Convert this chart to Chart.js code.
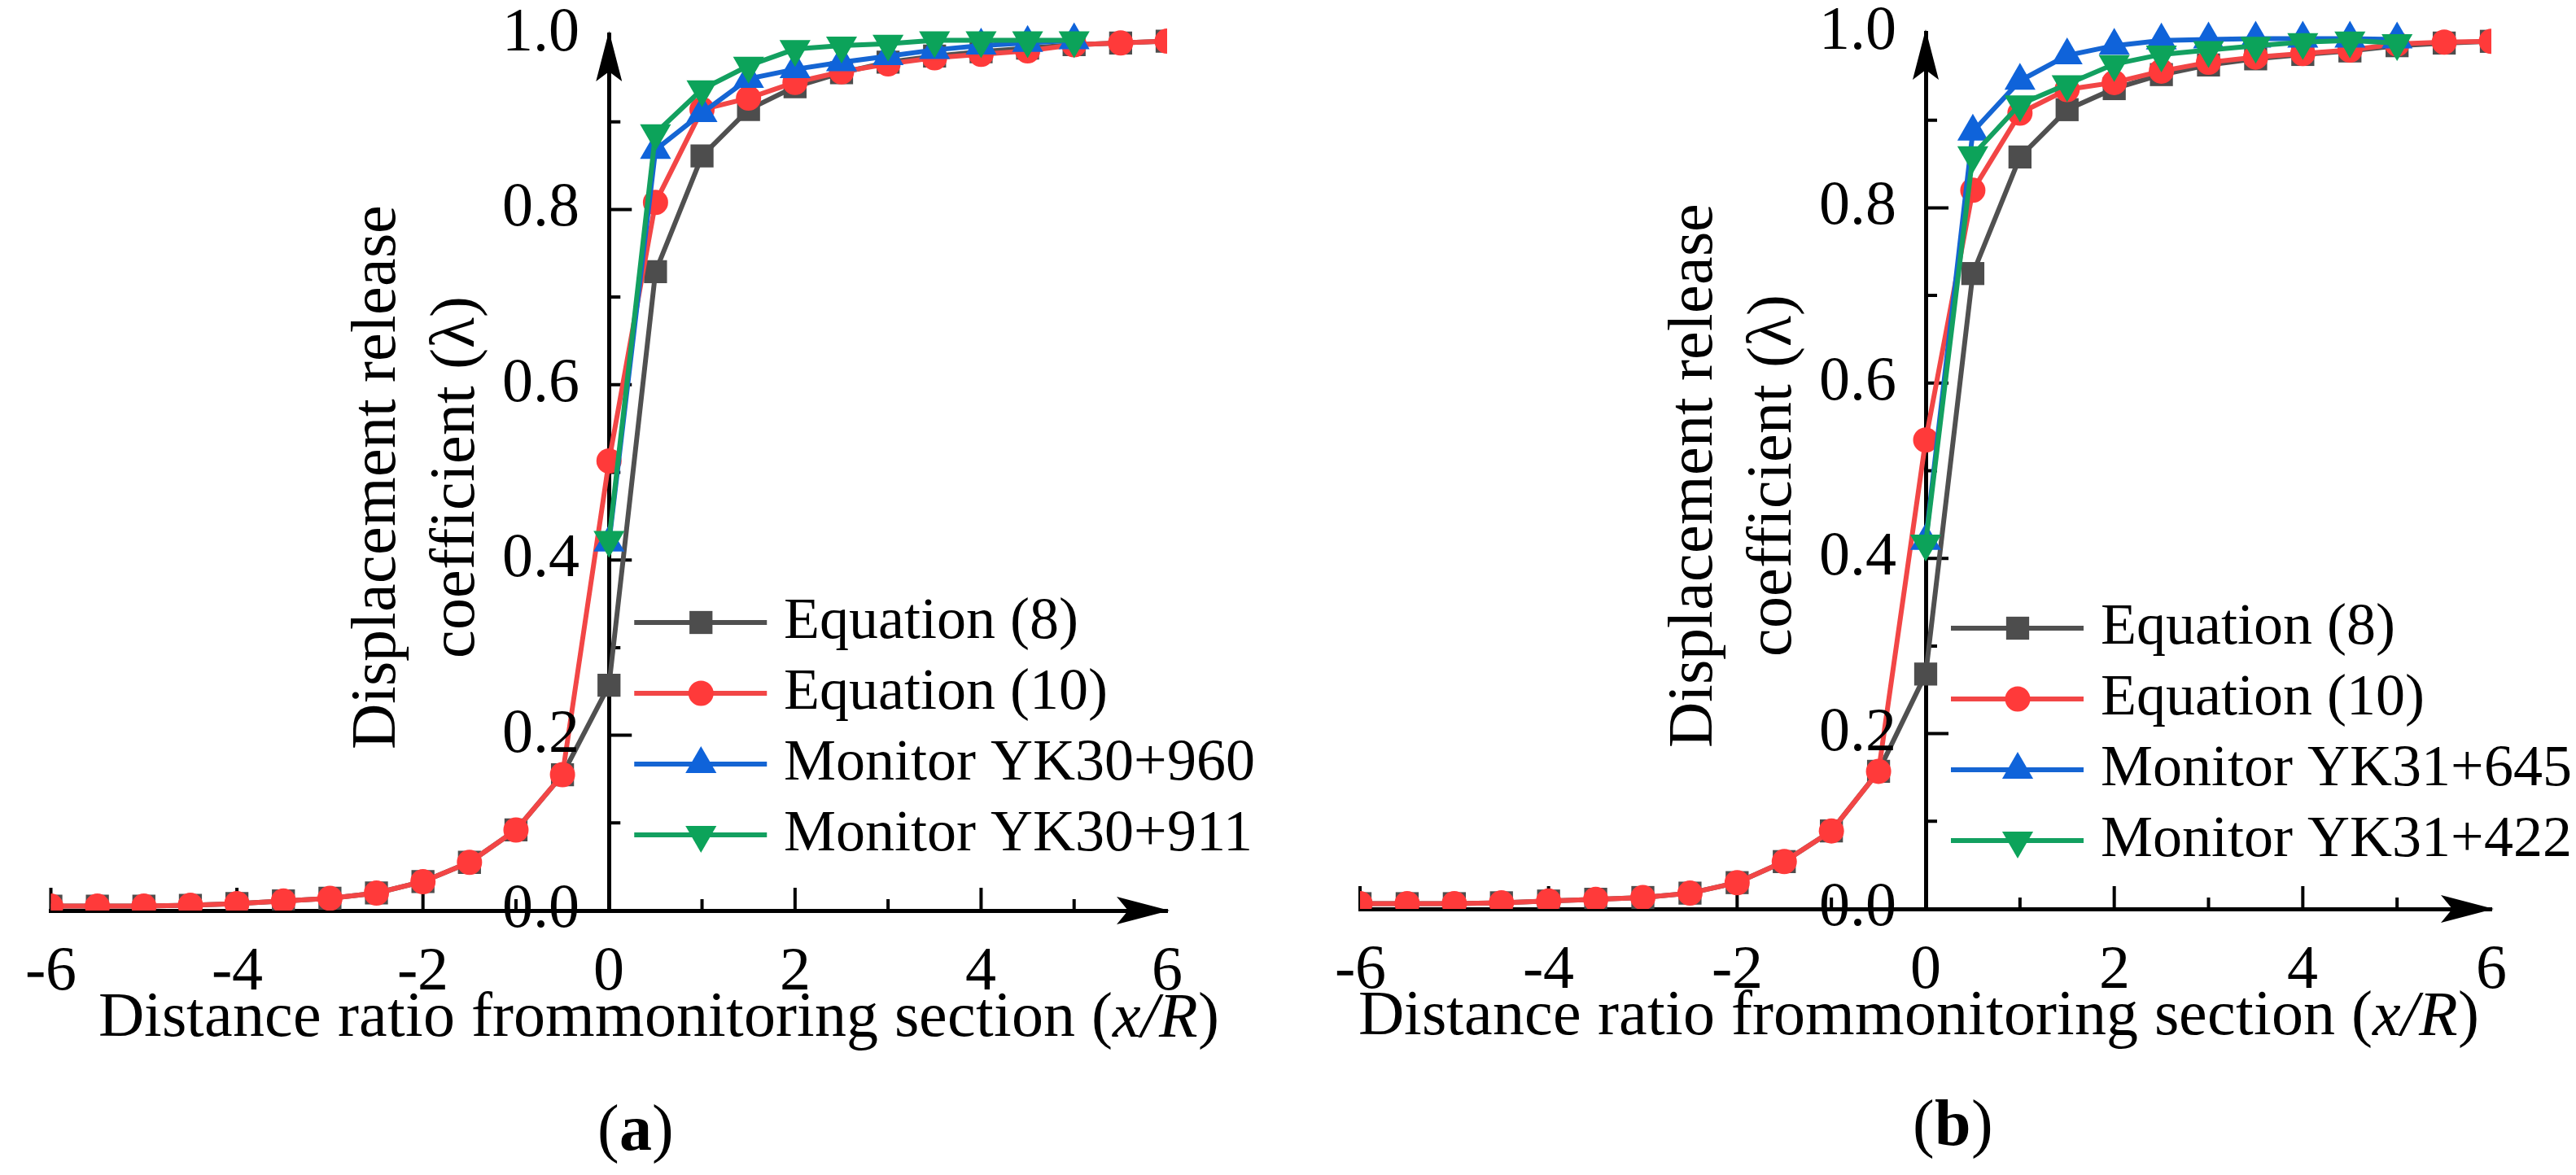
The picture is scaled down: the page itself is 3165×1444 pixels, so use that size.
<!DOCTYPE html>
<html>
<head>
<meta charset="utf-8">
<script src="https://cdn.jsdelivr.net/npm/chart.js@4.4.1/dist/chart.umd.min.js"></script>
<style>
  @font-face { font-family: 'FigSerif'; font-style: normal; font-weight: 400;
    src: local('Liberation Serif'), local('LiberationSerif'), local('LiberationSerif-Regular'); }
  @font-face { font-family: 'FigSerif'; font-style: italic; font-weight: 400;
    src: local('Liberation Serif Italic'), local('LiberationSerif-Italic'); }
  @font-face { font-family: 'FigSerif'; font-style: normal; font-weight: 700;
    src: local('Liberation Serif Bold'), local('LiberationSerif-Bold'); }
  html, body { margin: 0; padding: 0; background: #fff; }
  #wrap { position: relative; width: 3165px; height: 1444px; overflow: hidden; }
  canvas { position: absolute; top: 0; }
  #probe { position: absolute; left: -9999px; font-family: FigSerif, "Liberation Serif", serif; }
</style>
</head>
<body>
<div id="wrap">
  <canvas id="chartA" width="1582" height="1444" style="left:0px"></canvas>
  <canvas id="chartB" width="1583" height="1444" style="left:1582px"></canvas>
</div>
<span id="probe">Displacement <i>x/R</i> <b>a</b></span>
<script>
// distance ratio x/R for the two equations and for the monitoring points
const xFull = [-6, -5.5, -5, -4.5, -4, -3.5, -3, -2.5, -2, -1.5, -1, -0.5,
  0, 0.5, 1, 1.5, 2, 2.5, 3, 3.5, 4, 4.5, 5, 5.5, 6];
const xMonitor = [0, 0.5, 1, 1.5, 2, 2.5, 3, 3.5, 4, 4.5, 5];

// panel (a)
const eq8A = [0.005, 0.005, 0.005, 0.006, 0.008, 0.011, 0.014, 0.02, 0.033, 0.055, 0.092, 0.155,
  0.257, 0.729, 0.861, 0.914, 0.94, 0.956, 0.968, 0.975, 0.98, 0.984, 0.988, 0.99, 0.992];
const eq10A = [0.005, 0.005, 0.005, 0.006, 0.008, 0.011, 0.014, 0.02, 0.033, 0.055, 0.092, 0.155,
  0.513, 0.808, 0.914, 0.927, 0.945, 0.957, 0.966, 0.973, 0.977, 0.981, 0.988, 0.99, 0.992];
const monA1 = [0.42, 0.868, 0.91, 0.949, 0.96, 0.968, 0.975, 0.982, 0.987, 0.99, 0.993];
const monA2 = [0.423, 0.887, 0.937, 0.964, 0.983, 0.987, 0.989, 0.993, 0.993, 0.993, 0.993];
const labelsA = ['Equation (8)', 'Equation (10)', 'Monitor YK30+960', 'Monitor YK30+911'];

// panel (b)
const eq8B = [0.006, 0.006, 0.006, 0.007, 0.009, 0.011, 0.013, 0.018, 0.03, 0.054, 0.089, 0.157,
  0.268, 0.725, 0.858, 0.912, 0.936, 0.952, 0.963, 0.97, 0.975, 0.979, 0.985, 0.988, 0.99];
const eq10B = [0.006, 0.006, 0.006, 0.007, 0.009, 0.011, 0.013, 0.018, 0.03, 0.054, 0.089, 0.157,
  0.535, 0.82, 0.908, 0.935, 0.943, 0.956, 0.966, 0.972, 0.976, 0.98, 0.987, 0.989, 0.99];
const monB1 = [0.42, 0.887, 0.945, 0.974, 0.985, 0.991, 0.992, 0.993, 0.993, 0.993, 0.992];
const monB2 = [0.417, 0.86, 0.918, 0.941, 0.964, 0.975, 0.98, 0.985, 0.989, 0.991, 0.988];
const labelsB = ['Equation (8)', 'Equation (10)', 'Monitor YK31+645', 'Monitor YK31+422'];

// axis decoration
const xMajorTicks = [-6, -4, -2, 2, 4];
const xMinorTicks = [-5, -3, -1, 1, 3, 5];
const yMajorTicks = [0.2, 0.4, 0.6, 0.8];
const yMinorTicks = [0.1, 0.3, 0.5, 0.7, 0.9];

const FONT = 'FigSerif, "Liberation Serif", "DejaVu Serif", serif';

function pairs(xs, ys) {
  return xs.map((x, i) => ({x: x, y: ys[i]}));
}

function buildDatasets(eq8, eq10, mon1, mon2, labels) {
  const common = {borderWidth: 6, pointBorderWidth: 0, tension: 0,
    clip: {left: 0, right: 0, bottom: 0, top: 25}};
  return [
    Object.assign({label: labels[0], data: pairs(xFull, eq8), borderColor: '#505050',
      pointBackgroundColor: '#4d4d4d', pointStyle: 'rect', pointRadius: 20, order: 4}, common),
    Object.assign({label: labels[1], data: pairs(xFull, eq10), borderColor: '#f24646',
      pointBackgroundColor: '#ff3a3a', pointStyle: 'circle', pointRadius: 15.5, order: 3}, common),
    Object.assign({label: labels[2], data: pairs(xMonitor, mon1), borderColor: '#1565d3',
      pointBackgroundColor: '#0f63da', pointStyle: 'triangle', pointRadius: 22, order: 2}, common),
    Object.assign({label: labels[3], data: pairs(xMonitor, mon2), borderColor: '#13a060',
      pointBackgroundColor: '#0ca35a', pointStyle: 'triangle', pointRotation: 180, pointRadius: 22, order: 1}, common)
  ];
}

function drawMarker(ctx, ds, x, y) {
  const opts = {pointStyle: ds.pointStyle, radius: ds.pointRadius, rotation: ds.pointRotation || 0, borderWidth: 0};
  ctx.fillStyle = ds.pointBackgroundColor;
  if (Chart.helpers && Chart.helpers.drawPoint) {
    Chart.helpers.drawPoint(ctx, opts, x, y);
  } else {
    ctx.beginPath();
    ctx.arc(x, y, ds.pointRadius, 0, Math.PI * 2);
    ctx.fill();
  }
}

function drawParts(ctx, parts, cx, cy) {
  let total = 0;
  parts.forEach(p => { ctx.font = p.f; p.w = ctx.measureText(p.t).width; total += p.w; });
  let x = cx - total / 2;
  ctx.textAlign = 'left';
  ctx.textBaseline = 'middle';
  parts.forEach(p => { ctx.font = p.f; ctx.fillText(p.t, x, cy); x += p.w; });
}

function decor(cfg) {
  return {
    id: 'decor',
    beforeDatasetsDraw(chart) {
      const ctx = chart.ctx;
      const xs = chart.scales.x, ys = chart.scales.y;
      const x0 = xs.getPixelForValue(0), y0 = ys.getPixelForValue(0);
      ctx.save();
      ctx.strokeStyle = '#000';
      ctx.lineWidth = 4;
      ctx.beginPath();
      yMajorTicks.forEach(v => { const y = ys.getPixelForValue(v); ctx.moveTo(x0, y); ctx.lineTo(x0 + 28, y); });
      yMinorTicks.forEach(v => { const y = ys.getPixelForValue(v); ctx.moveTo(x0, y); ctx.lineTo(x0 + 14, y); });
      xMajorTicks.forEach(v => { const x = xs.getPixelForValue(v); ctx.moveTo(x, y0); ctx.lineTo(x, y0 - 28); });
      xMinorTicks.forEach(v => { const x = xs.getPixelForValue(v); ctx.moveTo(x, y0); ctx.lineTo(x, y0 - 14); });
      ctx.stroke();

      // arrow heads
      ctx.fillStyle = '#000';
      const yTop = ys.getPixelForValue(1) - 4;
      ctx.beginPath();
      ctx.moveTo(x0, yTop);
      ctx.lineTo(x0 + 16, yTop + 62);
      ctx.lineTo(x0, yTop + 50);
      ctx.lineTo(x0 - 16, yTop + 62);
      ctx.closePath();
      ctx.fill();
      const xEnd = xs.getPixelForValue(6) + 3;
      ctx.beginPath();
      ctx.moveTo(xEnd, y0);
      ctx.lineTo(xEnd - 65, y0 - 17);
      ctx.lineTo(xEnd - 51, y0);
      ctx.lineTo(xEnd - 65, y0 + 17);
      ctx.closePath();
      ctx.fill();
      ctx.restore();
    },
    afterDraw(chart) {
      const ctx = chart.ctx;
      const xs = chart.scales.x, ys = chart.scales.y;
      const x0 = xs.getPixelForValue(0), y0 = ys.getPixelForValue(0);
      ctx.save();
      ctx.fillStyle = '#000';

      // y tick labels, from the scale's own ticks, left of the centred axis
      ctx.font = '76px ' + FONT;
      ctx.textAlign = 'right';
      ctx.textBaseline = 'middle';
      ys.ticks.forEach(t => {
        ctx.fillText(t.value.toFixed(1), x0 - 36, ys.getPixelForValue(t.value));
      });

      // y axis title, two lines
      const yc = ys.getPixelForValue(0.5) + 6;
      ctx.font = '78px ' + FONT;
      ctx.textAlign = 'center';
      ctx.textBaseline = 'alphabetic';
      [['Displacement release', -263], ['coefficient (\u03bb)', -166]].forEach(l => {
        ctx.save();
        ctx.translate(x0 + l[1], yc);
        ctx.rotate(-Math.PI / 2);
        ctx.fillText(l[0], 0, 0);
        ctx.restore();
      });

      // x axis title
      drawParts(ctx, [
        {t: 'Distance ratio frommonitoring section ', f: '78px ' + FONT},
        {t: '(', f: '78px ' + FONT},
        {t: 'x/R', f: 'italic 78px ' + FONT},
        {t: ')', f: '78px ' + FONT}
      ], x0 + cfg.titleShift, y0 + 134);

      // panel label
      drawParts(ctx, [
        {t: '(', f: '80px ' + FONT},
        {t: cfg.panel, f: 'bold 80px ' + FONT},
        {t: ')', f: '80px ' + FONT}
      ], x0 + 33, cfg.panelY);

      // legend
      chart.data.datasets.forEach((ds, i) => {
        const y = cfg.legendY + i * 87;
        ctx.strokeStyle = ds.borderColor;
        ctx.lineWidth = ds.borderWidth;
        ctx.beginPath();
        ctx.moveTo(x0 + 31, y);
        ctx.lineTo(x0 + 194, y);
        ctx.stroke();
        drawMarker(ctx, ds, x0 + 113, y);
        ctx.fillStyle = '#000';
        ctx.font = '72px ' + FONT;
        ctx.textAlign = 'left';
        ctx.textBaseline = 'middle';
        ctx.fillText(ds.label, x0 + 215, y);
      });
      ctx.restore();
    }
  };
}

function makeChart(id, datasets, cfg) {
  const tickFont = {size: 76, lineHeight: 1, family: FONT};
  return new Chart(document.getElementById(id), {
    type: 'line',
    data: {datasets: datasets},
    options: {
      responsive: false,
      animation: false,
      devicePixelRatio: 1,
      events: [],
      layout: {padding: cfg.padding},
      plugins: {legend: {display: false}, tooltip: {enabled: false}},
      scales: {
        x: {
          type: 'linear', min: -6, max: 6, position: {y: 0},
          grid: {display: false},
          border: {display: true, color: '#000', width: 5},
          ticks: {stepSize: 2, padding: 31, maxRotation: 0, autoSkip: false, font: tickFont, color: '#000'}
        },
        y: {
          type: 'linear', min: 0, max: 1, position: {x: 0},
          grid: {display: false},
          border: {display: true, color: '#000', width: 5},
          ticks: {stepSize: 0.2, display: false, font: tickFont}
        }
      }
    },
    plugins: [decor(cfg)]
  });
}

function render() {
  Chart.defaults.font.family = FONT;
  Chart.defaults.color = '#000';
  makeChart('chartA', buildDatasets(eq8A, eq10A, monA1, monA2, labelsA),
    {padding: {left: 41, right: 148, top: 42, bottom: 325}, titleShift: 61, panel: 'a', panelY: 1392, legendY: 765});
  makeChart('chartB', buildDatasets(eq8B, eq10B, monB1, monB2, labelsB),
    {padding: {left: 89, right: 104, top: 40, bottom: 327}, titleShift: -9, panel: 'b', panelY: 1386, legendY: 772});
}

let done = false;
function go() { if (!done) { done = true; render(); } }
if (document.fonts && document.fonts.load) {
  Promise.all([
    document.fonts.load('76px FigSerif'),
    document.fonts.load('italic 76px FigSerif'),
    document.fonts.load('bold 76px FigSerif')
  ]).then(go, go);
  setTimeout(go, 1500);
} else {
  go();
}
</script>
</body>
</html>
